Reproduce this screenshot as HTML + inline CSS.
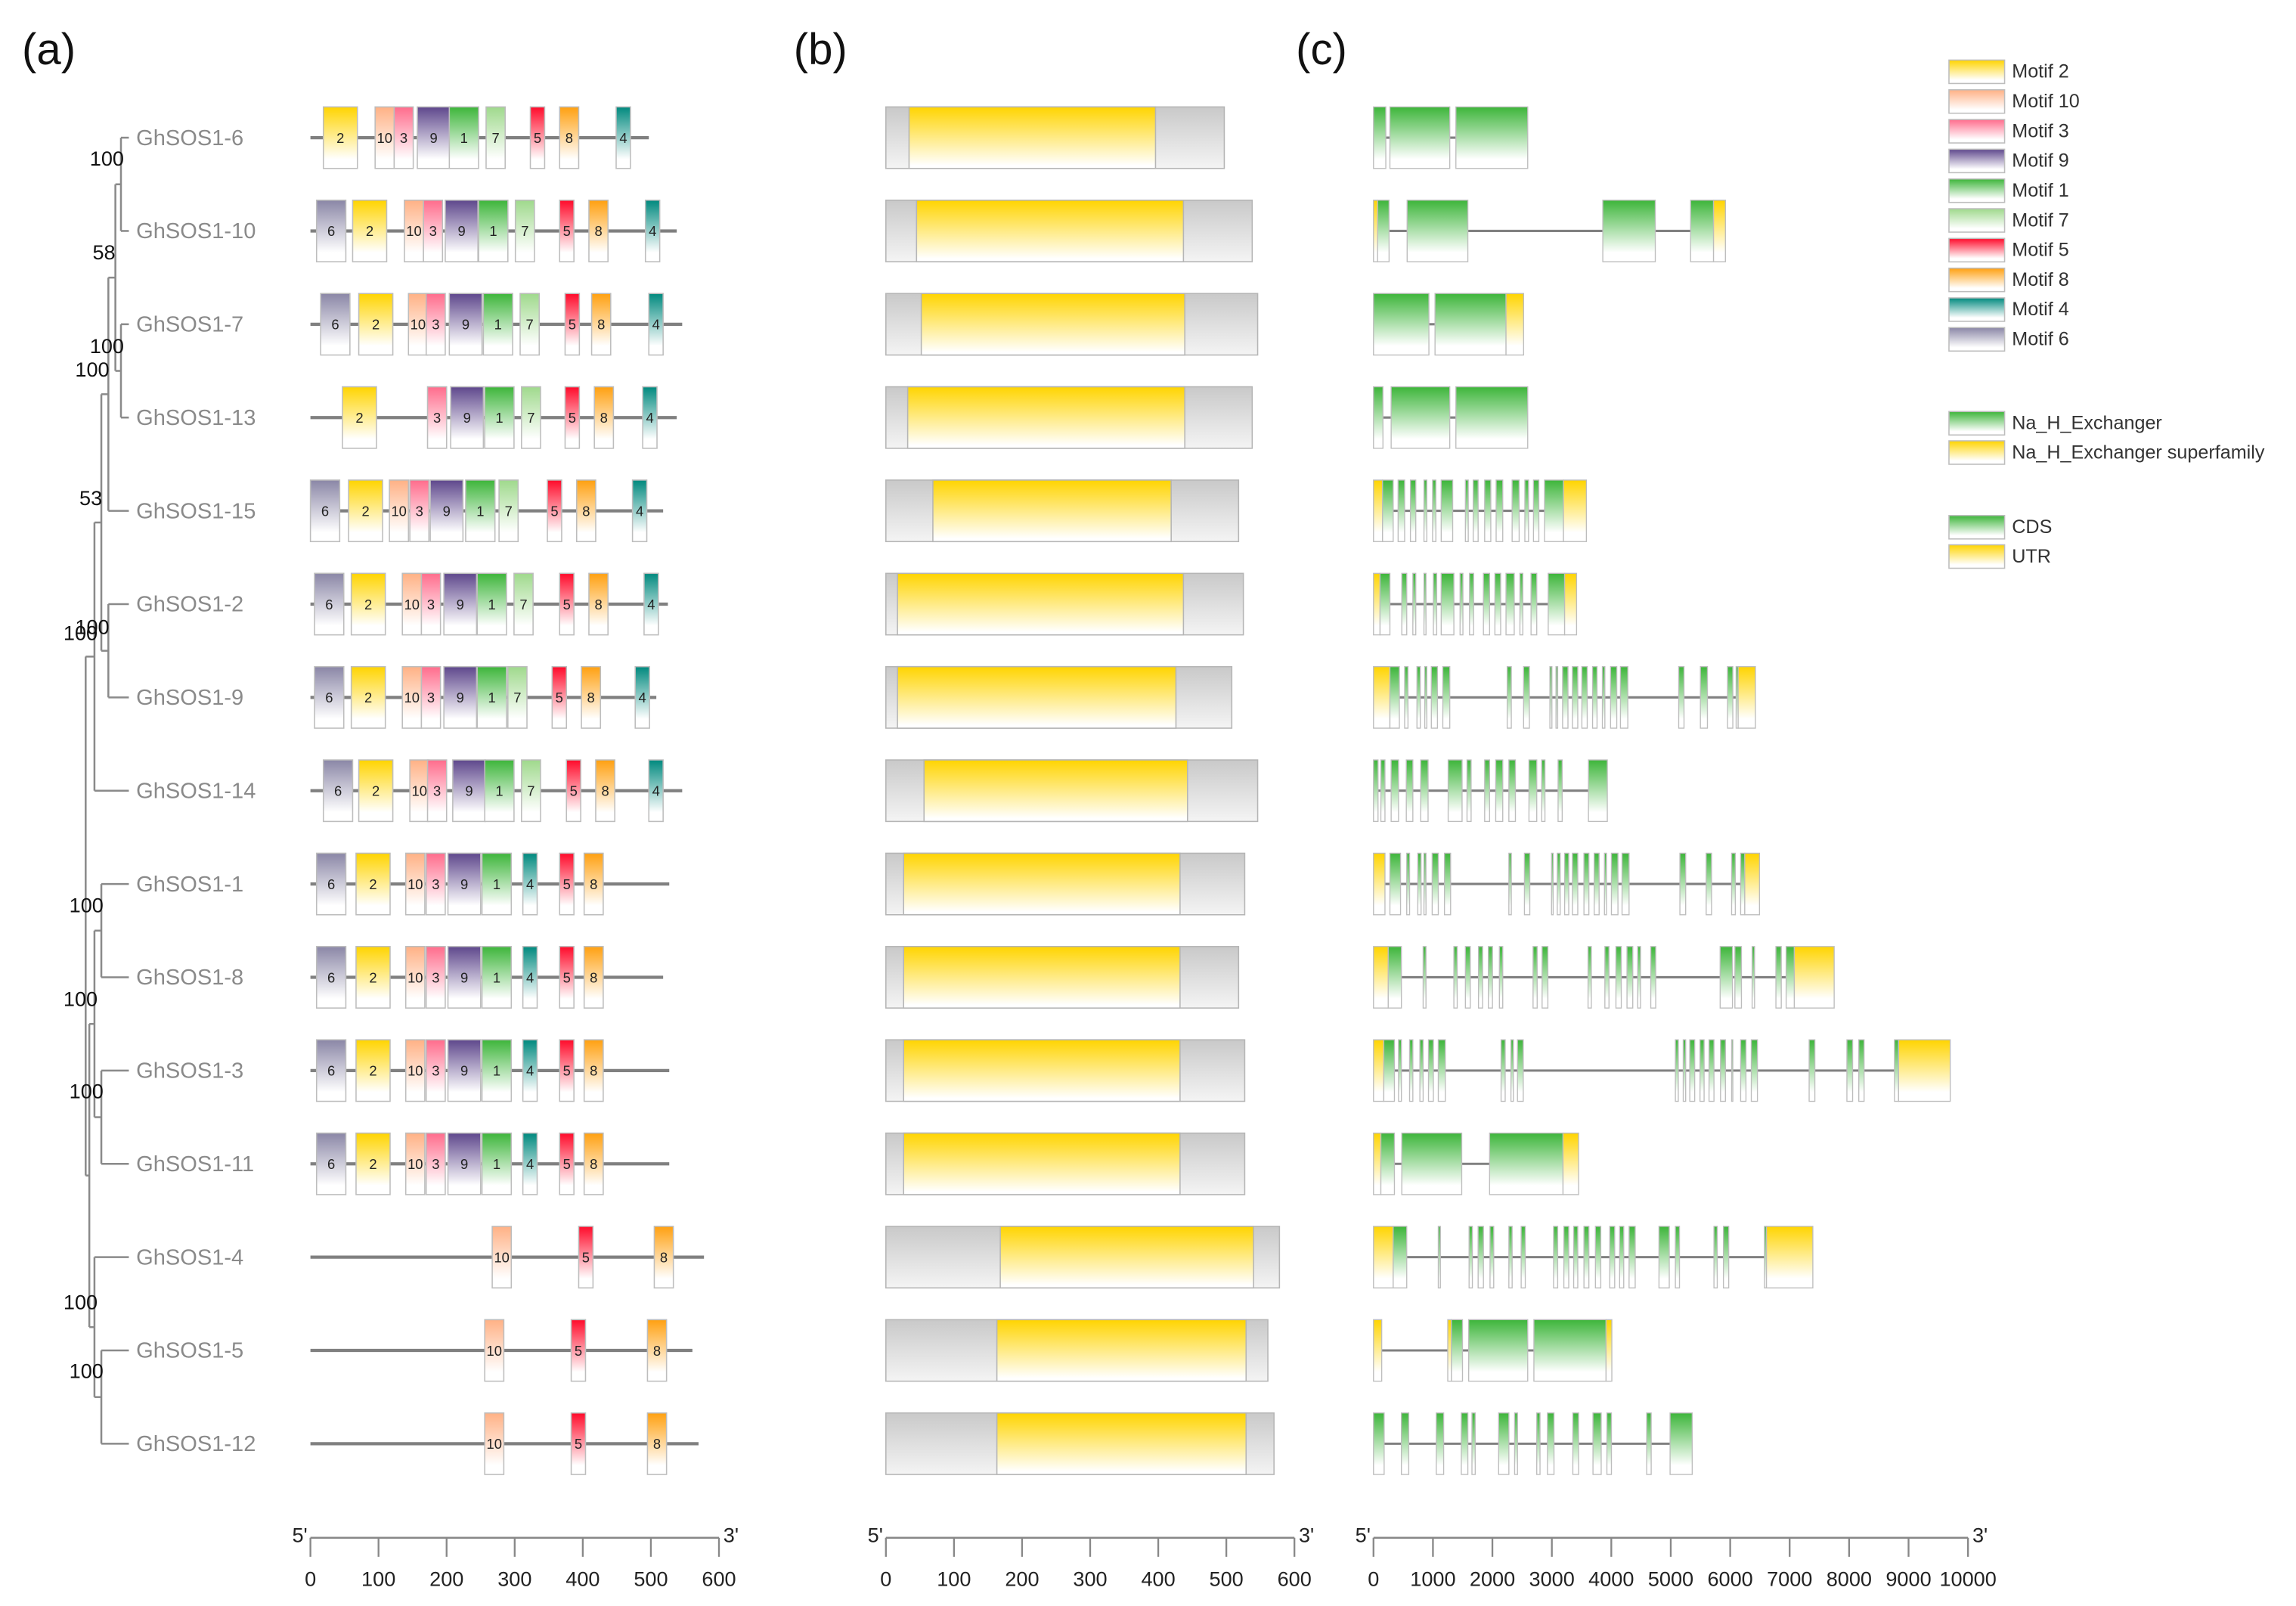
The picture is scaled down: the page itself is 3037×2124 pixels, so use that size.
<!DOCTYPE html>
<html><head><meta charset="utf-8"><style>
html,body{margin:0;padding:0;background:#fff;}
svg{display:block;font-family:"Liberation Sans",Arial,sans-serif;}
</style></head><body>
<svg id="fig" width="3037" height="2124" viewBox="0 0 1568 1096.6" xmlns="http://www.w3.org/2000/svg">
<defs id="defs"></defs>
<g id="root"></g>
</svg>
<script>
const genes = ["GhSOS1-6","GhSOS1-10","GhSOS1-7","GhSOS1-13","GhSOS1-15","GhSOS1-2","GhSOS1-9","GhSOS1-14","GhSOS1-1","GhSOS1-8","GhSOS1-3","GhSOS1-11","GhSOS1-4","GhSOS1-5","GhSOS1-12"];
const motifOrder = [2,10,3,9,1,7,5,8,4,6];
const motifColors = {2:"#FFD400",10:"#FFB185",3:"#FF6C8C",9:"#5E478C",1:"#3DB53A",7:"#9FD98C",5:"#FF0A2A",8:"#FFA010",4:"#00897E",6:"#8A86A6"};
const motifLen = {2:50,10:28,3:28,9:48,1:43,7:28,5:21,8:28,4:21,6:43};
const proteinLen = [497,538,546,538,518,525,508,546,527,518,527,527,578,561,570];
const motifs = [
 [[2,19],[10,95],[3,123],[9,157],[1,204],[7,258],[5,323],[8,366],[4,449]],
 [[6,9],[2,62],[10,138],[3,166],[9,198],[1,247],[7,301],[5,366],[8,409],[4,492]],
 [[6,15],[2,71],[10,144],[3,170],[9,204],[1,254],[7,308],[5,374],[8,413],[4,497]],
 [[2,47],[3,172],[9,206],[1,256],[7,310],[5,374],[8,417],[4,488]],
 [[6,0],[2,56],[10,116],[3,146],[9,176],[1,228],[7,277],[5,348],[8,391],[4,473]],
 [[6,6],[2,60],[10,135],[3,163],[9,196],[1,245],[7,299],[5,366],[8,409],[4,490]],
 [[6,6],[2,60],[10,135],[3,163],[9,196],[1,245],[7,290],[5,355],[8,398],[4,477]],
 [[6,19],[2,71],[10,146],[3,172],[9,209],[1,256],[7,310],[5,376],[8,419],[4,497]],
 [[6,9],[2,67],[10,140],[3,170],[9,202],[1,252],[4,312],[5,366],[8,402]],
 [[6,9],[2,67],[10,140],[3,170],[9,202],[1,252],[4,312],[5,366],[8,402]],
 [[6,9],[2,67],[10,140],[3,170],[9,202],[1,252],[4,312],[5,366],[8,402]],
 [[6,9],[2,67],[10,140],[3,170],[9,202],[1,252],[4,312],[5,366],[8,402]],
 [[10,267],[5,394],[8,505]],
 [[10,256],[5,383],[8,495]],
 [[10,256],[5,383],[8,495]]
];
const domainStart = [34,45,52,32,69,17,17,56,26,26,26,26,168,163,163];
const domainEnd = [396,437,439,439,419,437,426,443,432,432,432,432,540,529,529];
const exons = [
 [[0,207,"C"],[276,1283,"C"],[1386,2594,"C"]],
 [[0,69,"U"],[69,262,"C"],[566,1587,"C"],[3857,4740,"C"],[5334,5720,"C"],[5720,5920,"U"]],
 [[0,932,"C"],[1035,2229,"C"],[2229,2525,"U"]],
 [[0,159,"C"],[297,1283,"C"],[1386,2594,"C"]],
 [[0,152,"U"],[152,331,"C"],[414,524,"C"],[621,711,"C"],[849,897,"C"],[994,1049,"C"],[1139,1332,"C"],[1546,1594,"C"],[1677,1760,"C"],[1870,1973,"C"],[2063,2174,"C"],[2332,2450,"C"],[2546,2608,"C"],[2691,2781,"C"],[2877,3195,"C"],[3195,3581,"U"]],
 [[0,110,"U"],[110,276,"C"],[476,559,"C"],[662,711,"C"],[849,883,"C"],[1007,1063,"C"],[1139,1352,"C"],[1456,1504,"C"],[1615,1684,"C"],[1849,1953,"C"],[2042,2139,"C"],[2229,2367,"C"],[2463,2512,"C"],[2650,2746,"C"],[2939,3215,"C"],[3215,3416,"U"]],
 [[0,276,"U"],[276,435,"C"],[524,580,"C"],[731,787,"C"],[862,897,"C"],[973,1076,"C"],[1166,1283,"C"],[2249,2318,"C"],[2525,2622,"C"],[2967,3001,"C"],[3070,3098,"C"],[3181,3271,"C"],[3346,3436,"C"],[3505,3595,"C"],[3685,3760,"C"],[3850,3892,"C"],[3988,4092,"C"],[4154,4278,"C"],[5134,5223,"C"],[5499,5617,"C"],[5955,6044,"C"],[6100,6134,"C"],[6134,6424,"U"]],
 [[0,76,"C"],[124,193,"C"],[297,421,"C"],[552,662,"C"],[794,918,"C"],[1256,1490,"C"],[1573,1642,"C"],[1870,1953,"C"],[2056,2174,"C"],[2277,2387,"C"],[2615,2746,"C"],[2829,2884,"C"],[3105,3174,"C"],[3616,3933,"C"]],
 [[0,193,"U"],[276,455,"C"],[559,607,"C"],[745,800,"C"],[849,883,"C"],[987,1090,"C"],[1194,1297,"C"],[2277,2318,"C"],[2539,2629,"C"],[2995,3022,"C"],[3091,3140,"C"],[3215,3284,"C"],[3346,3436,"C"],[3540,3623,"C"],[3712,3795,"C"],[3885,3919,"C"],[4002,4112,"C"],[4181,4299,"C"],[5154,5251,"C"],[5596,5686,"C"],[6024,6086,"C"],[6176,6245,"C"],[6245,6493,"U"]],
 [[0,248,"U"],[248,469,"C"],[835,883,"C"],[1352,1408,"C"],[1546,1628,"C"],[1766,1835,"C"],[1932,2001,"C"],[2118,2174,"C"],[2684,2753,"C"],[2836,2933,"C"],[3609,3664,"C"],[3892,3961,"C"],[4078,4168,"C"],[4264,4361,"C"],[4444,4492,"C"],[4664,4747,"C"],[5831,6038,"C"],[6079,6189,"C"],[6369,6410,"C"],[6769,6859,"C"],[6941,7079,"C"],[7079,7749,"U"]],
 [[0,173,"U"],[173,352,"C"],[421,469,"C"],[607,662,"C"],[780,835,"C"],[925,1007,"C"],[1090,1208,"C"],[2146,2215,"C"],[2312,2353,"C"],[2422,2519,"C"],[5078,5127,"C"],[5210,5251,"C"],[5320,5403,"C"],[5492,5561,"C"],[5644,5727,"C"],[5837,5920,"C"],[6024,6044,"C"],[6176,6265,"C"],[6355,6458,"C"],[7328,7424,"C"],[7963,8059,"C"],[8163,8252,"C"],[8763,8832,"C"],[8832,9701,"U"]],
 [[0,124,"U"],[124,352,"C"],[476,1484,"C"],[1953,3188,"C"],[3188,3450,"U"]],
 [[0,331,"U"],[331,559,"C"],[1090,1125,"C"],[1608,1663,"C"],[1760,1849,"C"],[1960,2022,"C"],[2277,2332,"C"],[2484,2553,"C"],[3029,3098,"C"],[3202,3284,"C"],[3367,3436,"C"],[3540,3623,"C"],[3733,3823,"C"],[3974,4057,"C"],[4140,4209,"C"],[4299,4402,"C"],[4802,4975,"C"],[5078,5147,"C"],[5727,5782,"C"],[5886,5975,"C"],[6576,6610,"C"],[6610,7390,"U"]],
 [[0,138,"U"],[1249,1311,"U"],[1311,1497,"C"],[1601,2594,"C"],[2698,3912,"C"],[3912,4009,"U"]],
 [[0,179,"C"],[469,593,"C"],[1056,1180,"C"],[1477,1587,"C"],[1656,1711,"C"],[2105,2277,"C"],[2374,2422,"C"],[2746,2801,"C"],[2926,3036,"C"],[3353,3450,"C"],[3692,3830,"C"],[3926,4002,"C"],[4595,4671,"C"],[4989,5361,"C"]]
];
const aTicks = [0,100,200,300,400,500,600];
const bTicks = [0,100,200,300,400,500,600];
const cTicks = [0,1000,2000,3000,4000,5000,6000,7000,8000,9000,10000];
const bootstraps = [["100",73,108],["58",71,172],["100",73,236],["100",63,252],["53",62,340],["100",63,428],["100",55,432],["100",59,618],["100",55,682],["100",59,745],["100",55,889],["100",59,936]];
const treeNodes = {
 A:{x:82.6,c:[0,1]}, B:{x:82.6,c:[2,3]}, C:{x:78.8,c:["A","B"]}, D:{x:74,c:["C",4]},
 E:{x:74,c:[5,6]}, F:{x:69.2,c:["D","E"]}, G:{x:64.5,c:["F",7]}, H:{x:69.2,c:[8,9]},
 I:{x:69.2,c:[10,11]}, J:{x:64.5,c:["H","I"]}, M:{x:69.2,c:[13,14]}, L:{x:64.5,c:[12,"M"]},
 K:{x:61,c:["J","L"]}, R:{x:58.5,c:["G","K"]}
};

const NS="http://www.w3.org/2000/svg";
const root=document.getElementById("root");
const defs=document.getElementById("defs");
function mk(tag,attrs,parent){const e=document.createElementNS(NS,tag);for(const k in attrs)e.setAttribute(k,attrs[k]);(parent||root).appendChild(e);return e;}
function grad(id,color,end){const g=mk("linearGradient",{id:id,x1:0,y1:0,x2:0,y2:1},defs);mk("stop",{offset:0,"stop-color":color},g);mk("stop",{offset:end||0.85,"stop-color":"#fff"},g);}
motifOrder.forEach(m=>grad("gm"+m,motifColors[m]));
grad("gCDS","#3DB53A");grad("gUTR","#FFD400");grad("gDom","#FFD400",0.95);
const gg=mk("linearGradient",{id:"gGrey",x1:0,y1:0,x2:0,y2:1},defs);
mk("stop",{offset:0,"stop-color":"#c9c9c9"},gg);mk("stop",{offset:1,"stop-color":"#f4f4f4"},gg);

const rowY=i=>94+i*63.7;
const BH=21;
const ax=v=>212+v*0.465, bx=v=>605+v*0.465, cx=v=>938+v*0.0406;

[["(a)",15],["(b)",542],["(c)",885]].forEach(p=>{const t=mk("text",{x:p[1],y:44,"font-size":30,fill:"#111"});t.textContent=p[0];

});

const tg=mk("g",{stroke:"#8a8a8a","stroke-width":1.3,fill:"none"});


function nodeY(k){if(typeof k==="number")return rowY(k);const n=treeNodes[k];if(n.y===undefined)n.y=(nodeY(n.c[0])+nodeY(n.c[1]))/2;return n.y;}
function nodeX(k){return typeof k==="number"?88:treeNodes[k].x;}
for(const k in treeNodes){const n=treeNodes[k];const y0=nodeY(n.c[0]),y1=nodeY(n.c[1]);
 const v=mk("line",{x1:n.x,x2:n.x,y1:y0,y2:y1},tg);
 
 
 n.c.forEach(c=>{const h=mk("line",{x1:n.x,x2:nodeX(c),y1:nodeY(c),y2:nodeY(c)},tg);
 
 });}
bootstraps.forEach(b=>{const t=mk("text",{x:b[1],y:b[2]+5,"font-size":14,"text-anchor":"middle",fill:"#111"});t.textContent=b[0];

});

genes.forEach((g,i)=>{
 const y=rowY(i);
 const lab=mk("text",{x:93,y:y+5,"font-size":15,fill:"#8a8a8a"});lab.textContent=g;
 
 
 const ln=mk("line",{x1:ax(0),x2:ax(proteinLen[i]),y1:y,y2:y,stroke:"#808080","stroke-width":2.2});
 
 
 motifs[i].forEach(m=>{
  const x0=ax(m[1]),w=motifLen[m[0]]*0.465;
  const r=mk("rect",{x:x0,y:y-BH,width:w,height:2*BH,fill:"url(#gm"+m[0]+")",stroke:"#bdbdbd","stroke-width":0.8});
  
  
  const t=mk("text",{x:x0+w/2,y:y+3.5,"font-size":9.5,"text-anchor":"middle",fill:"#222"});t.textContent=m[0];
  
  
 });
 const pr=mk("rect",{x:bx(0),y:y-BH,width:proteinLen[i]*0.465,height:2*BH,fill:"url(#gGrey)",stroke:"#b5b5b5","stroke-width":0.8});
 
 
 const dr=mk("rect",{x:bx(domainStart[i]),y:y-BH,width:(domainEnd[i]-domainStart[i])*0.465,height:2*BH,fill:"url(#gDom)",stroke:"#b5b5b5","stroke-width":0.8});
 
 
 const ex=exons[i];const end=ex[ex.length-1][1];
 const il=mk("line",{x1:cx(0),x2:cx(end),y1:y,y2:y,stroke:"#808080","stroke-width":1.6});
 
 
 ex.forEach(e=>{
  const r=mk("rect",{x:cx(e[0]),y:y-BH,width:Math.max((e[1]-e[0])*0.0406,0.8),height:2*BH,fill:e[2]==="C"?"url(#gCDS)":"url(#gUTR)",stroke:"#bdbdbd","stroke-width":0.7});
  
  
 });
});

function axis(fx,ticks,name){
 const g=mk("g",{});
 
 
 const x0=fx(ticks[0]),x1=fx(ticks[ticks.length-1]);
 mk("line",{x1:x0,x2:x1,y1:1050,y2:1050,stroke:"#888","stroke-width":1.3},g);
 ticks.forEach(t=>{mk("line",{x1:fx(t),x2:fx(t),y1:1050,y2:1063,stroke:"#888","stroke-width":1.2},g);
  const tx=mk("text",{x:fx(t),y:1083,"font-size":14,"text-anchor":"middle",fill:"#222"},g);tx.textContent=t;
  
  });
 const a=mk("text",{x:x0-2,y:1053,"font-size":14,"text-anchor":"end",fill:"#222"},g);a.textContent="5'";
 
 
 const b=mk("text",{x:x1+3,y:1053,"font-size":14,fill:"#222"},g);b.textContent="3'";
 
 
}
axis(ax,aTicks,"motif-axis");axis(bx,bTicks,"domain-axis");axis(cx,cTicks,"gene-axis");

const legend=[];
motifOrder.forEach((m,k)=>legend.push(["gm"+m,"Motif "+m,48+k*20.3]));
legend.push(["gCDS","Na_H_Exchanger",288],["gUTR","Na_H_Exchanger superfamily",308],["gCDS","CDS",359],["gUTR","UTR",379]);
legend.forEach(l=>{
 const r=mk("rect",{x:1331,y:l[2]-7,width:38,height:16,fill:"url(#"+l[0]+")",stroke:"#bdbdbd","stroke-width":0.8});
 
 
 const t=mk("text",{x:1374,y:l[2]+5,"font-size":13,fill:"#333"});t.textContent=l[1];
 
 
});
</script>
</body></html>
